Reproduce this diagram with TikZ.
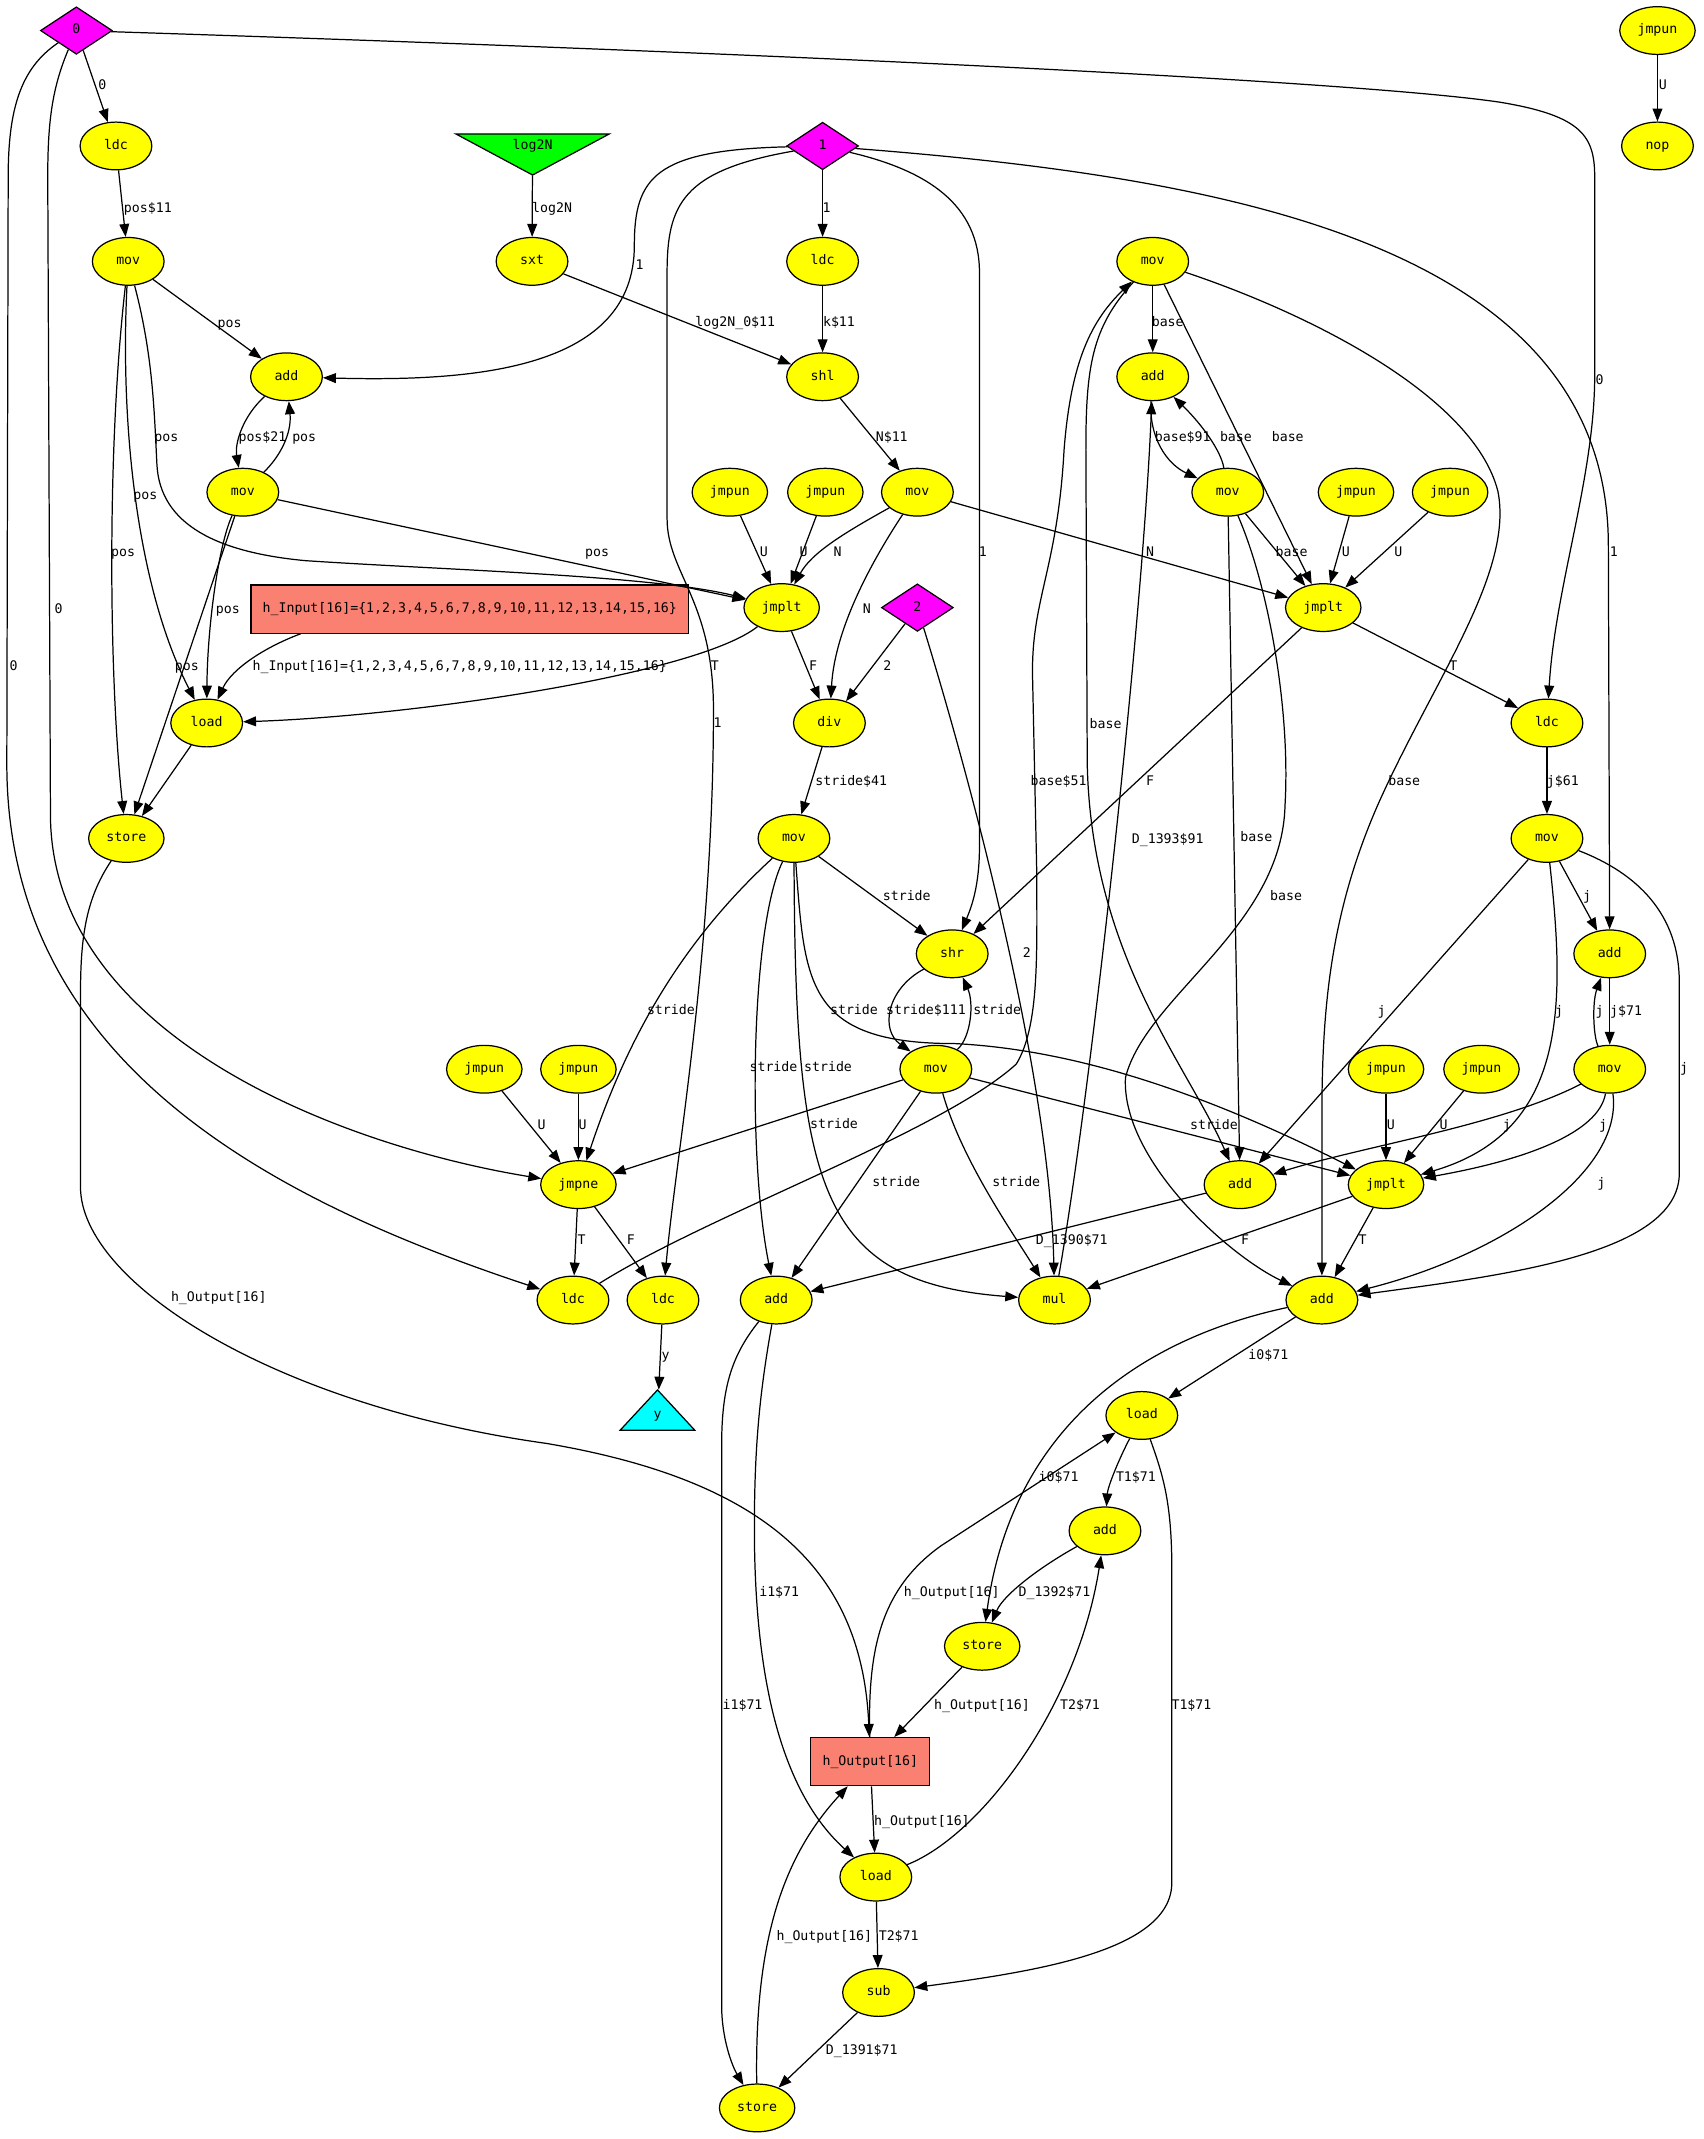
\documentclass[tikz,border=0pt]{standalone}
\usepackage{fontspec}
\newfontfamily\gvfont{DejaVu Sans Mono}
\usetikzlibrary{shapes.geometric,arrows.meta}
\definecolor{gvyellow}{HTML}{FFFF00}
\definecolor{gvmagenta}{HTML}{FF00FF}
\definecolor{gvgreen}{HTML}{00FF00}
\definecolor{gvcyan}{HTML}{00FFFF}
\definecolor{gvsalmon}{HTML}{FA8072}
\begin{document}
\begin{tikzpicture}[x=1pt,y=-1pt,
  every node/.style={font=\gvfont\fontsize{9.7}{11}\selectfont, text height=7pt, text depth=2pt, inner sep=0pt},
  op/.style={ellipse, draw, line width=0.9pt, fill=gvyellow, minimum width=52.6pt, minimum height=35pt},
  opw/.style={op, minimum width=55.3pt},
  konst/.style={diamond, draw, line width=0.9pt, fill=gvmagenta, minimum width=52.7pt, minimum height=34.8pt},
  arr/.style={rectangle, draw, line width=0.9pt, fill=gvsalmon, minimum height=35.3pt, inner xsep=8.6pt},
  lbl/.style={},
  e/.style={draw, line width=0.9pt, -{Triangle[length=9.5pt,width=7.2pt]}},
  tri/.style={draw, line width=0.9pt}
]
\useasboundingbox (0,0) rectangle (1248.4,1568);

% ---------- triangles (shapes of the two I/O nodes)
\filldraw[tri, fill=gvgreen] (334.2,98.2) -- (446.6,98.2) -- (390.4,128.3) -- cycle;
\filldraw[tri, fill=gvcyan] (454.6,1048.4) -- (509.3,1048.4) -- (482,1018.9) -- cycle;

% ---------- nodes
\node[konst] (n0) at (56,22.4) {0};
\node[opw] (jmpunT) at (1215,22.4) {jmpun};
\node[op] (ldcA) at (85,107) {ldc};
\node[minimum width=112.4pt, minimum height=42.6pt] (log2N) at (390.4,107) {log2N};
\node[konst] (n1) at (603,107) {1};
\node[op] (nop) at (1215,107) {nop};
\node[op] (movA) at (94,191.6) {mov};
\node[op] (sxt) at (390,191.6) {sxt};
\node[op] (ldcB) at (603,191.6) {ldc};
\node[op] (movBase) at (845,191.6) {mov};
\node[op] (addA) at (210,276.2) {add};
\node[op] (shl) at (603,276.2) {shl};
\node[op] (addBase) at (845,276.2) {add};
\node[op] (movB) at (178,360.8) {mov};
\node[opw] (jmpun1) at (535,360.8) {jmpun};
\node[opw] (jmpun2) at (605,360.8) {jmpun};
\node[op] (movN) at (672.5,360.8) {mov};
\node[op] (movB2) at (900,360.8) {mov};
\node[opw] (jmpun5) at (994,360.8) {jmpun};
\node[opw] (jmpun6) at (1063,360.8) {jmpun};
\node[arr] (hInput) at (344.4,446.5) {h\_Input[16]=\{1,2,3,4,5,6,7,8,9,10,11,12,13,14,15,16\}};
\node[opw] (jmpltA) at (573,445.4) {jmplt};
\node[konst] (n2) at (672.5,445.4) {2};
\node[opw] (jmpltB) at (970,445.4) {jmplt};
\node[op] (loadA) at (151.5,530) {load};
\node[op] (div) at (608,530) {div};
\node[op] (ldcJ) at (1134,530) {ldc};
\node[opw] (storeA) at (92.6,614.6) {store};
\node[op] (movS) at (582,614.6) {mov};
\node[op] (movJ) at (1134,614.6) {mov};
\node[op] (shr) at (698,699.2) {shr};
\node[op] (addJ) at (1180,699.2) {add};
\node[opw] (jmpun3) at (355,783.8) {jmpun};
\node[opw] (jmpun4) at (424,783.8) {jmpun};
\node[op] (movS2) at (686,783.8) {mov};
\node[opw] (jmpun7) at (1016,783.8) {jmpun};
\node[opw] (jmpun8) at (1086,783.8) {jmpun};
\node[op] (movJ2) at (1180,783.8) {mov};
\node[opw] (jmpne) at (424,868.4) {jmpne};
\node[op] (addD) at (909,868.4) {add};
\node[opw] (jmpltC) at (1016,868.4) {jmplt};
\node[op] (ldcC) at (420,953) {ldc};
\node[op] (ldcD) at (486,953) {ldc};
\node[op] (addC) at (569,953) {add};
\node[op] (mul) at (773,953) {mul};
\node[op] (addE) at (969,953) {add};
\node[minimum width=54.7pt, minimum height=37.4pt] (yT) at (482,1037.6) {y};
\node[op] (loadB) at (837,1037.6) {load};
\node[op] (addF) at (810,1122.2) {add};
\node[opw] (storeB) at (720,1206.8) {store};
\node[arr] (hOut) at (638,1291.4) {h\_Output[16]};
\node[op] (loadC) at (642,1376) {load};
\node[op] (sub) at (644,1460.6) {sub};
\node[opw] (storeC) at (555,1545.2) {store};

% ---------- edges
\draw[e] (n0) -- (ldcA);
\draw[e] (n0) .. controls (600,40) and (1000,60) .. (1100,75) .. controls (1160,85) and (1169,100) .. (1169,130) -- (1169,275) .. controls (1169,350) and (1140,430) .. (ldcJ);
\draw[e] (n0) .. controls (38,65) and (35,90) .. (35,130) -- (37,600) .. controls (40,760) and (250,840) .. (jmpne);
\draw[e] (n0) .. controls (15,50) and (6,80) .. (6,130) -- (5,560) .. controls (5,780) and (200,880) .. (ldcC);
\draw[e] (ldcA) -- (movA);
\draw[e] (movA) -- (addA);
\draw[e] (movA) .. controls (112,260) and (113,300) .. (115,340) .. controls (117,385) and (160,405) .. (224,411) .. controls (330,418) and (480,422) .. (jmpltA);
\draw[e] (movA) .. controls (88,310) and (100,430) .. (loadA);
\draw[e] (movA) .. controls (78,330) and (80,500) .. (storeA);
\draw[e] (addA) .. controls (178,305) and (172,325) .. (movB);
\draw[e] (movB) .. controls (205,335) and (214,318) .. (addA);
\draw[e] (movB) -- (jmpltA);
\draw[e] (movB) .. controls (160,400) and (152,460) .. (loadA);
\draw[e] (movB) -- (storeA);
\draw[e] ([xshift=-124pt]hInput.south) .. controls (195,474) and (170,490) .. (loadA);
\draw[e] (jmpltA) .. controls (510,495) and (300,525) .. (loadA);
\draw[e] (jmpltA) -- (div);
\draw[e] (loadA) -- (storeA);
\draw[e] (log2N) -- (sxt);
\draw[e] (sxt) -- (shl);
\draw[e] (n1) .. controls (480,110) and (465,130) .. (465,180) .. controls (465,270) and (350,280) .. (addA);
\draw[e] (n1) -- (ldcB);
\draw[e] (n1) .. controls (500,125) and (489,150) .. (489,200) -- (489,380) .. controls (489,420) and (523,440) .. (523,520) .. controls (523,700) and (495,850) .. (ldcD);
\draw[e] (n1) .. controls (680,125) and (718,150) .. (718,200) -- (718,620) .. controls (718,650) and (712,665) .. (shr);
\draw[e] (n1) .. controls (900,130) and (1179,180) .. (1179,400) -- (addJ);
\draw[e] (ldcB) -- (shl);
\draw[e] (shl) -- (movN);
\draw[e] (movN) .. controls (620,390) and (595,405) .. (jmpltA);
\draw[e] (jmpun1) -- (jmpltA);
\draw[e] (jmpun2) -- (jmpltA);
\draw[e] (movN) .. controls (640,410) and (612,460) .. (div);
\draw[e] (movN) -- (jmpltB);
\draw[e] (n2) -- (div);
\draw[e] (n2) .. controls (720,600) and (770,800) .. (mul);
\draw[e] (div) -- (movS);
\draw[e] (movS) -- (shr);
\draw[e] (movS) .. controls (500,690) and (460,760) .. (jmpne);
\draw[e] (movS) .. controls (550,680) and (548,850) .. (addC);
\draw[e] (movS) .. controls (583,870) and (600,940) .. (mul);
\draw[e] (movS) .. controls (590,720) and (590,765) .. (700,765) .. controls (800,770) and (900,810) .. (jmpltC);
\draw[e] (shr) .. controls (650,725) and (645,755) .. (movS2);
\draw[e] (movS2) .. controls (712,760) and (714,735) .. (shr);
\draw[e] (movS2) -- (jmpne);
\draw[e] (movS2) -- (jmpltC);
\draw[e] (movS2) -- (addC);
\draw[e] (movS2) .. controls (705,850) and (740,900) .. (mul);
\draw[e] (jmpun3) -- (jmpne);
\draw[e] (jmpun4) -- (jmpne);
\draw[e] (jmpne) -- (ldcC);
\draw[e] (jmpne) -- (ldcD);
\draw[e] (ldcD) -- (yT);
\draw[e] (ldcC) .. controls (520,890) and (690,830) .. (745,780) .. controls (762,752) and (760,700) .. (760,640) -- (757,500) .. controls (755,440) and (775,420) .. (780,330) .. controls (785,265) and (800,235) .. (movBase);
\draw[e] (movBase) -- (addBase);
\draw[e] (movBase) -- (jmpltB);
\draw[e] (movBase) .. controls (800,240) and (796,270) .. (796,330) -- (797,560) .. controls (800,700) and (870,780) .. (addD);
\draw[e] (movBase) .. controls (960,230) and (1080,290) .. (1098,360) .. controls (1110,420) and (1050,500) .. (1010,590) .. controls (975,670) and (969,740) .. (969,820) -- (addE);
\draw[e] (addBase) .. controls (842,320) and (855,340) .. (movB2);
\draw[e] (movB2) .. controls (895,330) and (880,310) .. (addBase);
\draw[e] (movB2) -- (jmpltB);
\draw[e] (movB2) -- (addD);
\draw[e] (movB2) .. controls (930,430) and (946,520) .. (942,590) .. controls (940,680) and (840,730) .. (825,790) .. controls (822,850) and (900,920) .. (addE);
\draw[e] (mul) .. controls (800,800) and (838,450) .. (addBase);
\draw[e] (jmpun5) -- (jmpltB);
\draw[e] (jmpun6) -- (jmpltB);
\draw[e] (jmpltB) -- (ldcJ);
\draw[e] (jmpltB) -- (shr);
\draw[e] (ldcJ) -- (movJ);
\draw[e] (movJ) -- (addJ);
\draw[e] (movJ) -- (addD);
\draw[e] (movJ) .. controls (1148,740) and (1148,830) .. (jmpltC);
\draw[e] (movJ) .. controls (1200,640) and (1231,670) .. (1231,720) -- (1231,860) .. controls (1231,920) and (1100,935) .. (addE);
\draw[e] (addJ) -- (movJ2);
\draw[e] (movJ2) .. controls (1168,760) and (1167,735) .. (addJ);
\draw[e] (movJ2) .. controls (1100,825) and (1000,840) .. (addD);
\draw[e] (movJ2) .. controls (1172,830) and (1120,850) .. (jmpltC);
\draw[e] (movJ2) .. controls (1190,860) and (1100,920) .. (addE);
\draw[e] (jmpun7) -- (jmpltC);
\draw[e] (jmpun8) -- (jmpltC);
\draw[e] (jmpltC) -- (addE);
\draw[e] (jmpltC) -- (mul);
\draw[e] (addD) -- (addC);
\draw[e] (addE) -- (loadB);
\draw[e] (addE) .. controls (820,985) and (740,1060) .. (storeB);
\draw[e] (loadB) .. controls (820,1070) and (812,1090) .. (addF);
\draw[e] (loadB) .. controls (852,1080) and (859,1100) .. (859,1150) -- (859,1380) .. controls (859,1430) and (760,1445) .. (sub);
\draw[e] (addF) .. controls (760,1150) and (735,1170) .. (storeB);
\draw[e] (storeB) -- (hOut);
\draw[e] (hOut) .. controls (636,1210) and (645,1165) .. (690,1133) -- (loadB);
\draw[e] (hOut) -- (loadC);
\draw[e] (loadC) .. controls (720,1345) and (790,1250) .. (addF);
\draw[e] (loadC) -- (sub);
\draw[e] (addC) .. controls (557,1020) and (553,1060) .. (553,1120) .. controls (553,1250) and (580,1320) .. (loadC);
\draw[e] (addC) .. controls (535,995) and (529,1020) .. (529,1060) -- (529,1470) .. controls (529,1495) and (537,1515) .. (storeC);
\draw[e] (sub) -- (storeC);
\draw[e] (storeC) .. controls (553,1420) and (575,1360) .. (hOut);
\draw[e] (storeA) .. controls (62,660) and (59,690) .. (59,730) -- (59,870) .. controls (59,940) and (200,1030) .. (400,1058) .. controls (560,1085) and (632,1150) .. (hOut);
\draw[e] (jmpunT) -- (nop);

% ---------- edge labels
\node[lbl] (t01) at (75,63) {0};
\node[lbl] (t02) at (1172.6,279.3) {0};
\node[lbl] (t03) at (43,447) {0};
\node[lbl] (t04) at (10,489) {0};
\node[lbl] (t05) at (108.4,153.2) {pos\$11};
\node[lbl] (t06) at (168.3,237.5) {pos};
\node[lbl] (t07) at (122,321.5) {pos};
\node[lbl] (t08) at (106.6,363.4) {pos};
\node[lbl] (t09) at (90.3,405.3) {pos};
\node[lbl] (t10) at (192.4,321.5) {pos\$21};
\node[lbl] (t11) at (223,321.5) {pos};
\node[lbl] (t12) at (437.7,405.3) {pos};
\node[lbl] (t13) at (167,447.2) {pos};
\node[lbl] (t14) at (137,489) {pos};
\node[lbl] (t15) at (337,489) {h\_Input[16]=\{1,2,3,4,5,6,7,8,9,10,11,12,13,14,15,16\}};
\node[lbl] (t16) at (524,489) {T};
\node[lbl] (t17) at (596,489) {F};
\node[lbl] (t18) at (404.7,153.2) {log2N};
\node[lbl] (t19) at (539,237) {log2N\_0\$11};
\node[lbl] (t20) at (468.9,195) {1};
\node[lbl] (t21) at (606,153.2) {1};
\node[lbl] (t22) at (526,531) {1};
\node[lbl] (t23) at (720.5,405.3) {1};
\node[lbl] (t24) at (1183,405.3) {1};
\node[lbl] (t25) at (615,237) {k\$11};
\node[lbl] (t26) at (653.7,321.5) {N\$11};
\node[lbl] (t27) at (614,405.3) {N};
\node[lbl] (t28) at (560,405.3) {U};
\node[lbl] (t29) at (589,405.3) {U};
\node[lbl] (t30) at (635.5,447) {N};
\node[lbl] (t31) at (843,405.3) {N};
\node[lbl] (t32) at (650.4,489) {2};
\node[lbl] (t33) at (752.8,699.3) {2};
\node[lbl] (t34) at (624,573.3) {stride\$41};
\node[lbl] (t35) at (664.7,657.4) {stride};
\node[lbl] (t36) at (491.8,741.2) {stride};
\node[lbl] (t37) at (567,783) {stride};
\node[lbl] (t38) at (607,783) {stride};
\node[lbl] (t39) at (626,741.2) {stride};
\node[lbl] (t40) at (678.8,741.2) {stride\$111};
\node[lbl] (t41) at (731,741.2) {stride};
\node[lbl] (t42) at (611.4,825) {stride};
\node[lbl] (t43) at (889.9,825.7) {stride};
\node[lbl] (t44) at (657,867.6) {stride};
\node[lbl] (t45) at (745,867.6) {stride};
\node[lbl] (t46) at (397,825.7) {U};
\node[lbl] (t47) at (427,825.7) {U};
\node[lbl] (t48) at (426.4,909.5) {T};
\node[lbl] (t49) at (462.4,909.5) {F};
\node[lbl] (t50) at (488,993.8) {y};
\node[lbl] (t51) at (776,573.3) {base\$51};
\node[lbl] (t52) at (856,237) {base};
\node[lbl] (t53) at (944,321.5) {base};
\node[lbl] (t54) at (810.5,531.4) {base};
\node[lbl] (t55) at (1029.4,573.3) {base};
\node[lbl] (t56) at (867,321.5) {base\$91};
\node[lbl] (t57) at (906,321.5) {base};
\node[lbl] (t58) at (946.8,405.3) {base};
\node[lbl] (t59) at (921,614.7) {base};
\node[lbl] (t60) at (942.8,657.4) {base};
\node[lbl] (t61) at (856,615.5) {D\_1393\$91};
\node[lbl] (t62) at (986.5,405.3) {U};
\node[lbl] (t63) at (1025,405.3) {U};
\node[lbl] (t64) at (1065.3,489) {T};
\node[lbl] (t65) at (843,573.3) {F};
\node[lbl] (t66) at (1145.6,573.3) {j\$61};
\node[lbl] (t67) at (1163.5,657.4) {j};
\node[lbl] (t68) at (1012.8,741.7) {j};
\node[lbl] (t69) at (1142.9,741.7) {j};
\node[lbl] (t70) at (1234.6,783.6) {j};
\node[lbl] (t71) at (1192,741.7) {j\$71};
\node[lbl] (t72) at (1172.6,741.7) {j};
\node[lbl] (t73) at (1104.6,825.7) {j};
\node[lbl] (t74) at (1175.2,825.7) {j};
\node[lbl] (t75) at (1173.9,868) {j};
\node[lbl] (t76) at (1019.6,825.7) {U};
\node[lbl] (t77) at (1058.3,825.7) {U};
\node[lbl] (t78) at (998.9,909.5) {T};
\node[lbl] (t79) at (912.8,909.5) {F};
\node[lbl] (t80) at (785.7,910) {D\_1390\$71};
\node[lbl] (t81) at (929.8,993.8) {i0\$71};
\node[lbl] (t82) at (776,1083.6) {i0\$71};
\node[lbl] (t83) at (832.7,1083.6) {T1\$71};
\node[lbl] (t84) at (873.4,1251) {T1\$71};
\node[lbl] (t85) at (773,1168) {D\_1392\$71};
\node[lbl] (t86) at (719.8,1251) {h\_Output[16]};
\node[lbl] (t87) at (697.7,1168) {h\_Output[16]};
\node[lbl] (t88) at (675.8,1335.7) {h\_Output[16]};
\node[lbl] (t89) at (791.7,1251) {T2\$71};
\node[lbl] (t90) at (658.8,1420) {T2\$71};
\node[lbl] (t91) at (571.2,1168) {i1\$71};
\node[lbl] (t92) at (544.3,1251) {i1\$71};
\node[lbl] (t93) at (631.7,1503.3) {D\_1391\$71};
\node[lbl] (t94) at (604.3,1420) {h\_Output[16]};
\node[lbl] (t95) at (1219,62.8) {U};
\node[lbl] (t96) at (160.4,951.9) {h\_Output[16]};
\end{tikzpicture}
\end{document}
